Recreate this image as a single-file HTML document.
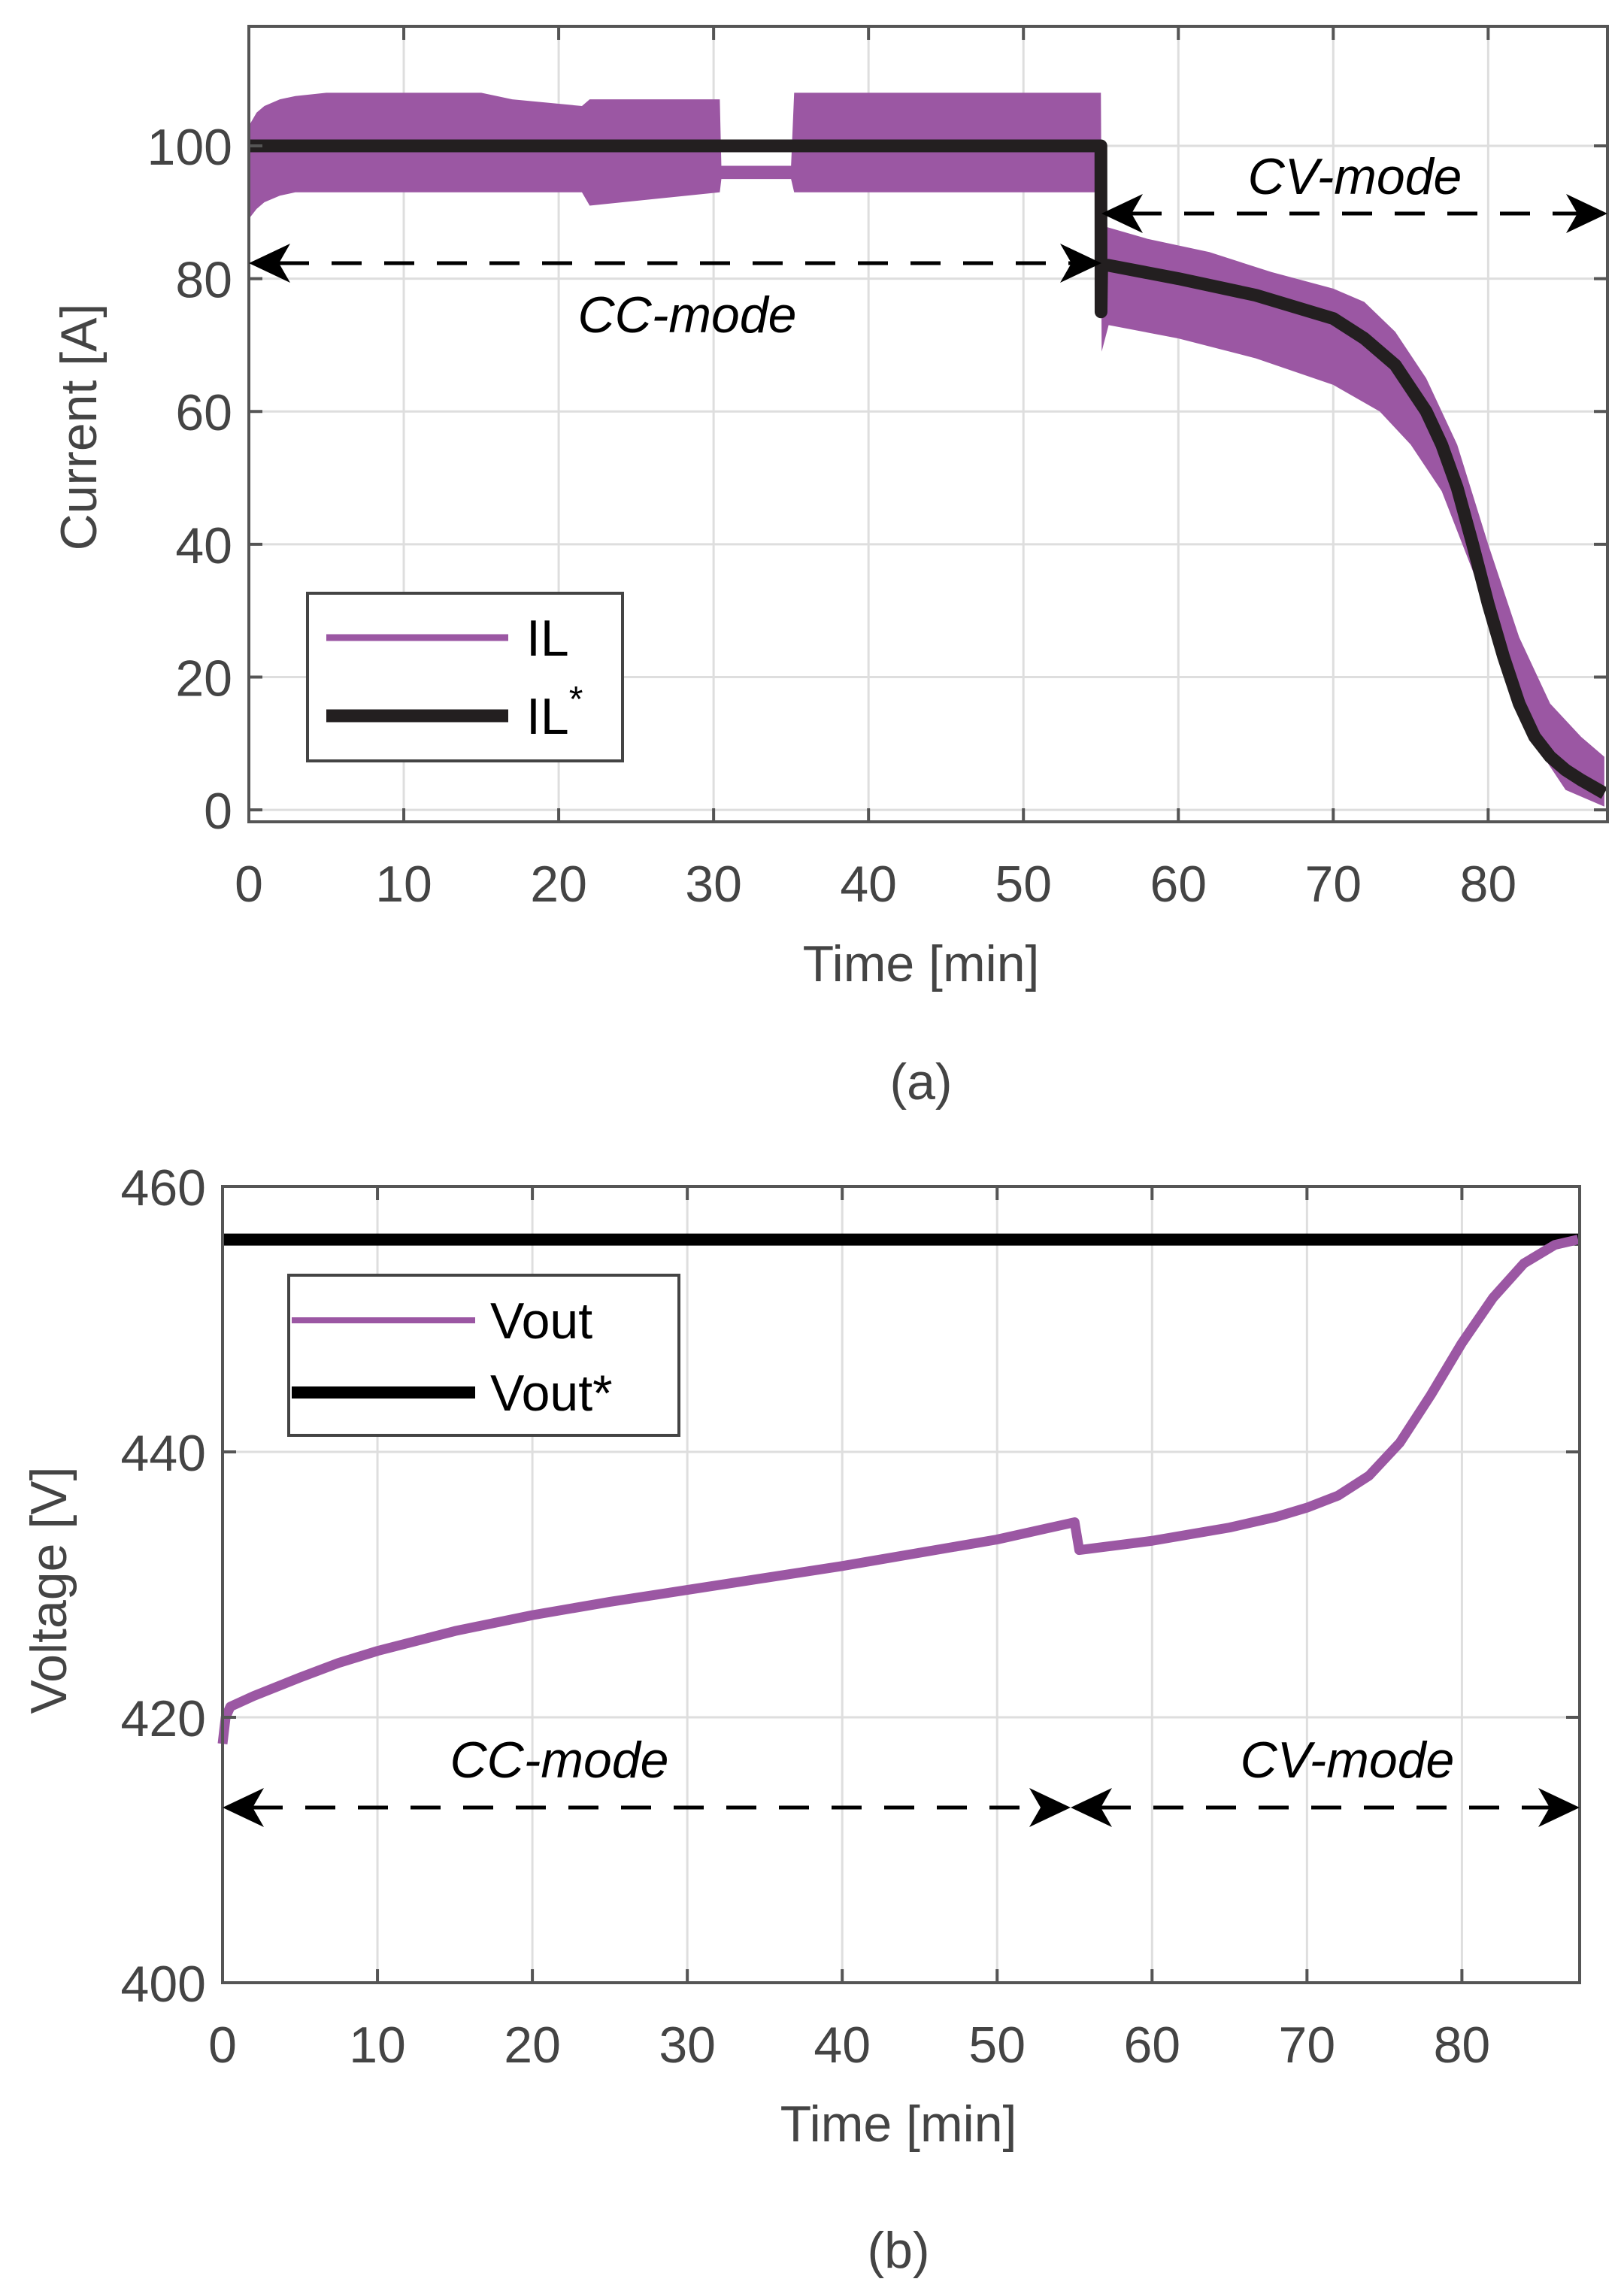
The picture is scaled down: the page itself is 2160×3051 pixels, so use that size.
<!DOCTYPE html>
<html><head><meta charset="utf-8"><style>
html,body{margin:0;padding:0;background:#fff;}
svg{display:block;font-family:"Liberation Sans",sans-serif;}
</style></head><body>
<svg id="fig" width="2160" height="3051" viewBox="0 0 2160 3051"></svg>
<script>
const xTicks=[0,10,20,30,40,50,60,70,80];
const iTicks=[0,20,40,60,80,100];
const vTicks=[400,420,440,460];
const iUpT=[0,0.5,1,2,3,5,15,17,21.5,22,30.4,30.5,35,35.2,55,55.05,58,62,66,70,72,74,76,78,80,82,84,86,87.5];
const iUp=[103,105,106,107,107.5,108,108,107,106,107,107,97,97,108,108,88,86,84,81,78.5,76.5,72,65,55,40,26,16,11,8];
const iLoT=[0,0.5,1,2,3,10,21.5,22,30.4,30.5,35,35.2,55,55.05,55.5,60,65,70,73,75,77,79,81,83,85,87.5];
const iLo=[89,90.5,91.5,92.5,93,93,93,91,93,95,95,93,93,69,73,71,68,64,60,55,48,36,22,10,3,0.5];
const iRefT=[0,55,55.01,55.05,55.5,60,65,70,72,74,76,77,78,79,80,81,82,83,84,85,86,87.5];
const iRef=[100,100,75,82,82,80,77.5,74,71,67,60,55,48.5,40,31,23,16,11,8,6,4.5,2.5];
const vT=[0,0.2,0.5,2,5,7.5,10,15,20,25,30,35,40,45,50,55,55.3,60,65,68,70,72,74,76,78,80,82,84,86,87.5];
const vOut=[418,420,420.8,421.6,423,424.1,425,426.5,427.7,428.7,429.6,430.5,431.4,432.4,433.4,434.7,432.6,433.3,434.3,435.1,435.8,436.7,438.2,440.7,444.3,448.2,451.6,454.2,455.6,456];
const vRef=456;

const svg=document.getElementById('fig');
const NS='http://www.w3.org/2000/svg';
function mk(tag,attrs,parent){const e=document.createElementNS(NS,tag);for(const k in attrs)e.setAttribute(k,attrs[k]);(parent||svg).appendChild(e);return e;}
function txt(s,x,y,size,attrs,parent){const e=mk('text',Object.assign({x:x,y:y,'font-size':size},attrs||{}),parent);e.textContent=s;return e;}

function panel(p){
  const X=v=>p.L+(v-p.x0)/(p.x1-p.x0)*(p.R-p.L);
  const Y=v=>p.B-(v-p.y0)/(p.y1-p.y0)*(p.B-p.T);
  const g=mk('g',{});
  
  
  xTicks.forEach(t=>{const l=mk('line',{x1:X(t),x2:X(t),y1:p.T,y2:p.B,stroke:'#dedede','stroke-width':3},g);});
  p.yt.forEach(t=>{const l=mk('line',{x1:p.L,x2:p.R,y1:Y(t),y2:Y(t),stroke:'#dedede','stroke-width':3},g);});
  return {X,Y,g};
}

// ---------- Panel (a)
const A={L:331,R:2138,T:35,B:1093,x0:0,x1:87.7,y0:-1.8,y1:118,yt:iTicks,name:'current-plot'};
const a=panel(A);
let d='';
iUpT.forEach((t,i)=>{d+=(i?'L':'M')+a.X(t)+','+a.Y(iUp[i]);});
for(let i=iLoT.length-1;i>=0;i--){d+='L'+a.X(iLoT[i])+','+a.Y(iLo[i]);}
let band=mk('path',{d:d+'Z',fill:'#9b57a3'},a.g);


d='';iRefT.forEach((t,i)=>{d+=(i?'L':'M')+a.X(t)+','+a.Y(iRef[i]);});
let ref=mk('path',{d:d,fill:'none',stroke:'#231f20','stroke-width':17,'stroke-linejoin':'round'},a.g);



// ---------- Panel (b)
const B={L:296,R:2101,T:1578,B:2637,x0:0,x1:87.6,y0:400,y1:460,yt:vTicks,name:'voltage-plot'};
const b=panel(B);
let vr=mk('line',{x1:B.L,x2:B.R,y1:b.Y(vRef),y2:b.Y(vRef),stroke:'#000','stroke-width':16},b.g);


d='';vT.forEach((t,i)=>{d+=(i?'L':'M')+b.X(t)+','+b.Y(vOut[i]);});
let vl=mk('path',{d:d,fill:'none',stroke:'#9b57a3','stroke-width':13,'stroke-linejoin':'round'},b.g);



// axes frames & ticks
[[A,a],[B,b]].forEach(([P,pp])=>{
  let fr=mk('rect',{x:P.L,y:P.T,width:P.R-P.L,height:P.B-P.T,fill:'none',stroke:'#555','stroke-width':4});
  
  
  xTicks.forEach(t=>{
    mk('line',{x1:pp.X(t),x2:pp.X(t),y1:P.B,y2:P.B-18,stroke:'#555','stroke-width':4});
    mk('line',{x1:pp.X(t),x2:pp.X(t),y1:P.T,y2:P.T+18,stroke:'#555','stroke-width':4});
    let l=txt(String(t),pp.X(t),P.B+106,68,{'text-anchor':'middle',fill:'#444'});
    
    
  });
  P.yt.forEach(t=>{
    mk('line',{x1:P.L,x2:P.L+18,y1:pp.Y(t),y2:pp.Y(t),stroke:'#555','stroke-width':4});
    mk('line',{x1:P.R,x2:P.R-18,y1:pp.Y(t),y2:pp.Y(t),stroke:'#555','stroke-width':4});
    let l=txt(String(t),P.L-22,pp.Y(t)+25,68,{'text-anchor':'end',fill:'#444'});
    
    
  });
});

function label(s,x,y,size,name,extra){const e=txt(s,x,y,size,Object.assign({'text-anchor':'middle',fill:'#444'},extra||{}));return e;}
label('Time [min]',1225,1305,68,'x-axis-title');
label('(a)',1225,1462,68,'panel-label-a');
label('Current [A]',0,0,68,'y-axis-title',{transform:'translate(128,568) rotate(-90)'});
label('Time [min]',1195,2848,68,'x-axis-title');
label('(b)',1195,3016,68,'panel-label-b');
label('Voltage [V]',0,0,68,'y-axis-title',{transform:'translate(88,2115) rotate(-90)'});

// arrows
function arrow(x1,x2,y,name){
  const g=mk('g',{});
  mk('line',{x1:x1+40,x2:x2-40,y1:y,y2:y,stroke:'#000','stroke-width':5,'stroke-dasharray':'40 30'},g);
  mk('path',{d:`M${x1},${y} L${x1+55},${y-26} L${x1+40},${y} L${x1+55},${y+26}Z`,fill:'#000'},g);
  mk('path',{d:`M${x2},${y} L${x2-55},${y-26} L${x2-40},${y} L${x2-55},${y+26}Z`,fill:'#000'},g);
}
arrow(331,1465,350,'cc-mode-arrow');
arrow(1465,2138,284,'cv-mode-arrow');
label('CC-mode',914,442,68,'cc-mode-label',{fill:'#000','font-style':'italic'});
label('CV-mode',1802,258,68,'cv-mode-label',{fill:'#000','font-style':'italic'});
arrow(296,1424,2404,'cc-mode-arrow');
arrow(1424,2101,2404,'cv-mode-arrow');
label('CC-mode',744,2364,68,'cc-mode-label',{fill:'#000','font-style':'italic'});
label('CV-mode',1792,2364,68,'cv-mode-label',{fill:'#000','font-style':'italic'});

// legends
function legend(x,y,w,h,items,name){
  const g=mk('g',{});
  mk('rect',{x:x,y:y,width:w,height:h,fill:'#fff',stroke:'#444','stroke-width':4},g);
  items.forEach(it=>{
    const e=mk('g',{},g);
    mk('line',{x1:it.lx1,x2:it.lx2,y1:it.y,y2:it.y,stroke:it.c,'stroke-width':it.w},e);
    const t=txt(it.t,it.tx,it.y+24,68,{fill:'#000'},e);
    if(it.sup){const s=mk('tspan',{dy:-30,'font-size':48},t);s.textContent='*';}
  });
}
legend(409,789,419,223,[
 {lx1:434,lx2:676,y:848,c:'#9b57a3',w:9,t:'IL',tx:700},
 {lx1:434,lx2:676,y:952,c:'#231f20',w:17,t:'IL',tx:700,sup:true}],'current-legend');
legend(384,1696,519,213,[
 {lx1:388,lx2:632,y:1756,c:'#9b57a3',w:8,t:'Vout',tx:652},
 {lx1:388,lx2:632,y:1852,c:'#000',w:16,t:'Vout*',tx:652}],'voltage-legend');
</script>
</body></html>
